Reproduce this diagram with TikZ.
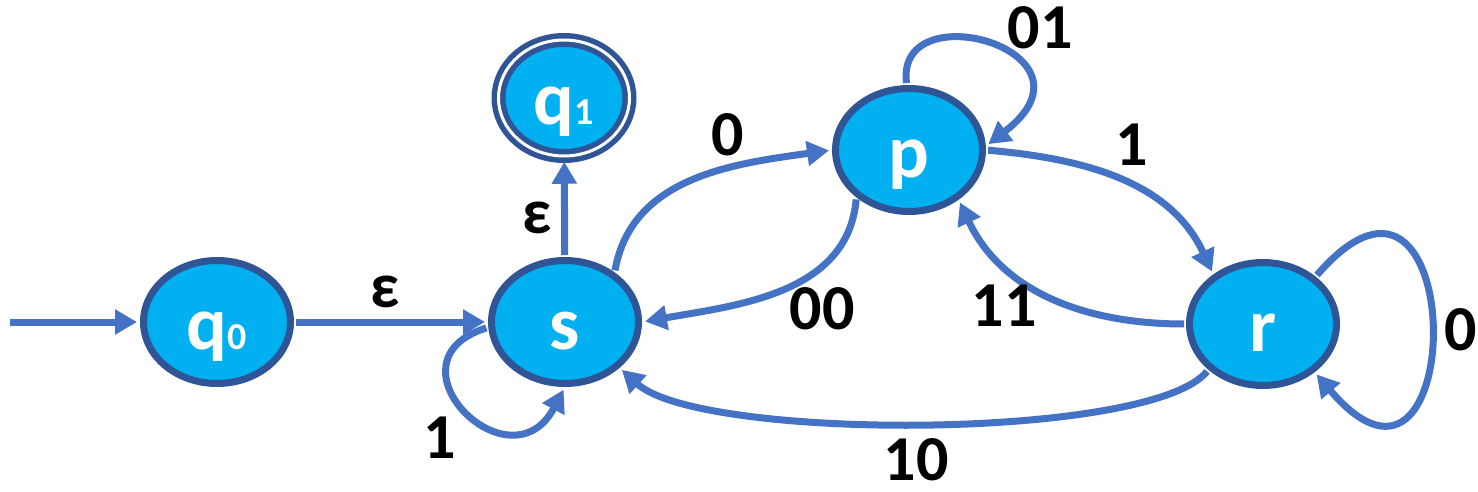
\documentclass[tikz,border=0pt]{standalone}
\usepackage{fontspec}
\setmainfont{Carlito}
\usetikzlibrary{arrows.meta,shapes.geometric}
\definecolor{nodefill}{HTML}{00B0F0}
\definecolor{nodeline}{HTML}{2F5597}
\definecolor{edgecol}{HTML}{4472C4}
\begin{document}
\begin{tikzpicture}[x=1pt,y=1pt,
  state/.style={ellipse, draw=nodeline, fill=nodefill, line width=7pt,
    minimum width=147pt, minimum height=123pt, inner sep=0pt, text=white,
    text height=54pt, text depth=0pt, font=\bfseries\fontsize{76}{76}\selectfont},
  edge/.style={draw=edgecol, line width=7pt, shorten >=3pt, shorten <=2pt,
    -{Triangle[length=22pt,width=24pt]}},
  lbl/.style={font=\bfseries\fontsize{64}{64}\selectfont, text=black, inner sep=0pt}
]
\useasboundingbox (0,0) rectangle (1478,491);
% states
\node[state] (q0) at (217,169) {q{\fontsize{38}{38}\selectfont 0}};
\node[state] (s) at (565,169) {s};
\node[state, double=white, double distance=3pt, line width=5.5pt,
  minimum width=131pt, minimum height=116pt] (q1) at (564,393) {q{\fontsize{38}{38}\selectfont 1}};
\node[state] (p) at (909,341) {p};
\node[state] (r) at (1263,167) {r};
\coordinate (start) at (10,169);
% edges
\draw[edge, shorten <=0pt] (start) -- (q0);
\draw[edge] (q0) -- (s);
\draw[edge] (s) -- (q1);
\draw[edge] (s.45) to[out=80,in=188] (p.west);
\draw[edge] (p.92) .. controls (895,500) and (1110,440) .. (p.3);
\draw[edge] (p.east) to[out=-5,in=115] (r.135);
\draw[edge] (r.west) to[out=180,in=-65] (p.-45);
\draw[edge] (p.222) to[out=265,in=10] (s.east);
\draw[edge] (r.220) .. controls (1150,50) and (700,50) .. (s.-40);
\draw[edge] (r.42) .. controls (1470,393) and (1470,-63) .. (r.-43);
\draw[edge] (s.184) .. controls (380,130) and (510,0) .. (s.south);
% labels
\node[lbl] (l1) at (385,199) {ε};
\node[lbl] (l2) at (537,273) {ε};
\node[lbl] (l3) at (728,356) {0};
\node[lbl] (l4) at (1040,463) {01};
\node[lbl] (l5) at (1132,346) {1};
\node[lbl] (l6) at (1004,185) {11};
\node[lbl] (l7) at (822,182) {00};
\node[lbl] (l8) at (916,31) {10};
\node[lbl] (l9) at (1461,161) {0};
\node[lbl] (l10) at (440,53) {1};
\end{tikzpicture}
\end{document}
